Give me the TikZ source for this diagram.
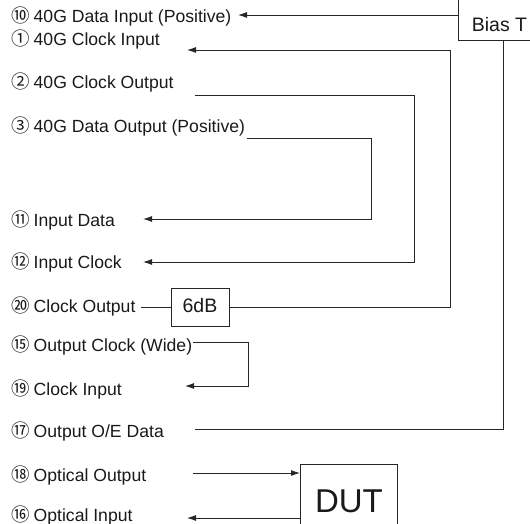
\documentclass[tikz,border=0pt]{standalone}
\usepackage{fontspec}
\setmainfont{Liberation Sans}
\newfontfamily\cjk{Noto Sans CJK JP}
\usetikzlibrary{arrows.meta}
\newcommand{\cn}[1]{{\cjk\fontsize{18.5}{19}\selectfont #1}\hspace{4pt}}
\begin{document}
\begin{tikzpicture}[x=1pt,y=-1pt,
  wire/.style={draw=black!85,line width=0.9pt},
  arr/.style={wire,-{Latex[length=9pt,width=6pt]}},
  lbl/.style={anchor=base west,inner sep=0pt,font=\fontsize{17.6}{20}\selectfont,text=black!90},
  boxnode/.style={draw=black!85,line width=0.9pt,fill=white,inner sep=0pt,font=\fontsize{19.5}{20}\selectfont,text=black!90}]
\useasboundingbox (0,0) rectangle (530,524);
\clip (0,0) rectangle (530,524);
% labels
\node[lbl] (l10) at (11,23) {\cn{⑩}40G Data Input (Positive)};
\node[lbl] (l1)  at (11,46) {\cn{①}40G Clock Input};
\node[lbl] (l2)  at (11,89) {\cn{②}40G Clock Output};
\node[lbl] (l3)  at (11,133) {\cn{③}40G Data Output (Positive)};
\node[lbl] (l11) at (11,226) {\cn{⑪}Input Data};
\node[lbl] (l12) at (11,268) {\cn{⑫}Input Clock};
\node[lbl] (l20) at (11,312) {\cn{⑳}Clock Output};
\node[lbl] (l15) at (11,351) {\cn{⑮}Output Clock (Wide)};
\node[lbl] (l19) at (11,395) {\cn{⑲}Clock Input};
\node[lbl] (l17) at (11,437) {\cn{⑰}Output O/E Data};
\node[lbl] (l18) at (11,481) {\cn{⑱}Optical Output};
\node[lbl] (l16) at (11,521) {\cn{⑯}Optical Input};
% boxes
\node[boxnode,anchor=south west,minimum width=82pt,text height=42pt,text depth=9pt] (bias) at (458,41) {Bias T};
\node[boxnode,anchor=base,minimum width=58pt,text height=24pt,text depth=14pt] (att) at (200,312) {6dB};
\node[boxnode,anchor=north west,minimum width=97pt,text height=48pt,text depth=20pt,font=\fontsize{33}{34}\selectfont] (dut) at (300,464) {DUT};
% free ends
\coordinate (e10) at (238,15);
\coordinate (e1) at (187,50);
\coordinate (s2) at (195,95);
\coordinate (s3) at (247,138);
\coordinate (e11) at (143,219);
\coordinate (e12) at (143,262);
\coordinate (s20) at (141,307);
\coordinate (s15) at (193,342);
\coordinate (e19) at (185,386);
\coordinate (s17) at (195,429);
\coordinate (s18) at (193,473);
\coordinate (e16) at (187,518);
% connectors
\draw[arr] (bias.west |- e10) -- (e10);
\draw[arr] (att.east) -- (450,307) -- (450,50) -- (e1);
\draw[arr] (s2) -- (414,95) -- (414,262) -- (e12);
\draw[arr] (s3) -- (371,138) -- (371,219) -- (e11);
\draw[wire] (s20) -- (att.west);
\draw[arr] (s15) -- (248,342) -- (248,386) -- (e19);
\draw[wire] (s17) -- (503,429) -- (503,41);
\draw[arr] (s18) -- (dut.west |- s18);
\draw[arr] (dut.west |- e16) -- (e16);
\end{tikzpicture}
\end{document}
